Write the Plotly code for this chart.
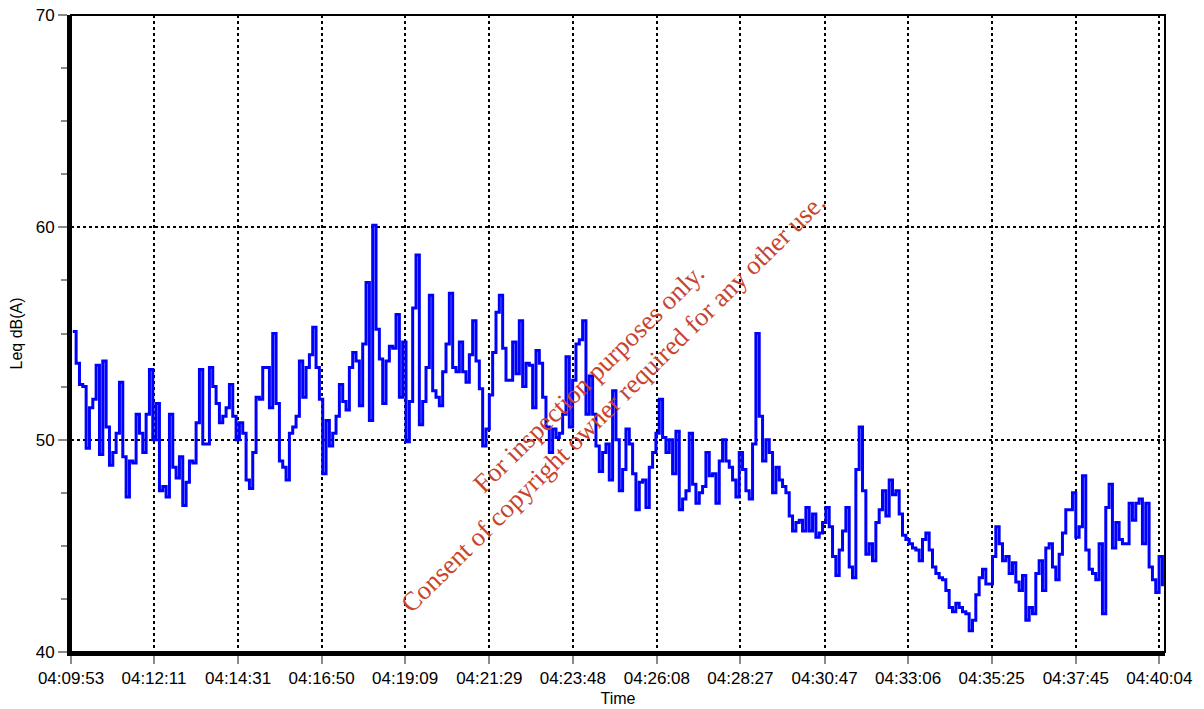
import pandas as pd
import plotly.graph_objects as go

# ---- data ----
START = "2024-01-01 04:09:56"
SAMPLE_MS = 5545
leq = [
    55.1, 53.6, 52.6, 52.5, 49.6, 51.5, 51.9, 53.5, 49.3, 53.7,
    50.6, 48.8, 49.4, 50.3, 52.7, 49.2, 47.3, 49.0, 48.9, 51.2,
    50.3, 49.4, 51.2, 53.3, 50.0, 51.7, 47.6, 47.8, 47.3, 51.2,
    48.7, 48.2, 49.2, 46.9, 48.0, 49.0, 48.9, 50.8, 53.3, 49.8,
    49.8, 53.4, 52.5, 51.7, 50.8, 51.1, 51.5, 52.6, 51.1, 50.0,
    50.8, 50.3, 48.1, 47.7, 49.4, 52.0, 51.9, 53.4, 53.4, 51.5,
    55.0, 51.7, 49.0, 48.7, 48.1, 50.3, 50.6, 51.1, 53.7, 52.0,
    53.4, 54.0, 55.3, 53.4, 51.9, 48.4, 50.9, 49.7, 50.3, 51.1,
    52.6, 51.8, 51.4, 53.4, 54.1, 53.7, 51.6, 54.5, 57.4, 50.9,
    60.1, 55.2, 53.8, 51.7, 53.7, 54.4, 54.3, 55.9, 52.0, 54.6,
    49.9, 51.8, 56.2, 58.7, 50.7, 51.8, 53.4, 56.8, 52.3, 52.0,
    51.6, 53.2, 54.5, 56.9, 53.4, 53.2, 54.6, 53.2, 52.7, 54.0,
    55.6, 53.7, 52.4, 49.7, 50.5, 52.1, 54.1, 56.0, 56.8, 54.3,
    52.8, 52.8, 54.6, 53.1, 55.6, 52.5, 53.6, 53.5, 51.5, 54.2,
    53.6, 52.0, 50.6, 49.4, 50.5, 50.1, 50.3, 51.2, 53.9, 50.6,
    52.8, 54.5, 54.7, 55.6, 51.2, 53.0, 51.2, 49.7, 48.5, 49.4,
    49.8, 48.1, 52.3, 50.0, 47.6, 48.6, 50.5, 49.8, 48.4, 46.7,
    48.0, 48.1, 46.8, 48.7, 49.4, 50.3, 51.9, 50.1, 49.4, 50.0,
    48.4, 50.4, 46.7, 47.2, 47.6, 50.3, 47.9, 47.0, 47.5, 47.8,
    49.4, 48.3, 48.4, 47.0, 49.0, 50.0, 49.0, 48.7, 48.1, 47.3,
    49.4, 48.6, 47.6, 47.2, 49.8, 55.0, 51.1, 49.0, 50.0, 49.4,
    47.5, 48.7, 48.1, 47.8, 47.5, 46.4, 45.7, 46.1, 46.2, 45.7,
    46.8, 45.7, 46.5, 45.4, 45.6, 46.1, 46.8, 45.9, 44.5, 43.6,
    44.8, 45.7, 46.8, 44.0, 43.5, 48.6, 50.6, 47.6, 44.6, 45.1,
    44.3, 46.1, 46.7, 47.6, 46.4, 48.1, 47.4, 47.6, 46.5, 45.5,
    45.3, 45.1, 44.9, 44.8, 44.3, 45.3, 45.6, 44.8, 44.0, 43.7,
    43.5, 43.4, 42.9, 42.1, 41.9, 42.3, 42.1, 41.9, 41.8, 41.0,
    41.5, 42.7, 43.5, 43.9, 43.2, 43.2, 44.5, 45.9, 45.1, 44.3,
    44.5, 43.7, 44.2, 43.3, 42.9, 43.6, 41.5, 42.1, 41.8, 43.7,
    44.3, 42.9, 44.9, 45.1, 44.0, 43.4, 44.6, 45.6, 46.7, 46.7,
    47.5, 45.4, 45.9, 48.3, 44.8, 43.9, 43.7, 43.4, 45.1, 41.8,
    46.8, 47.9, 44.9, 46.1, 45.3, 45.1, 45.1, 47.0, 46.2, 47.0,
    47.2, 45.1, 47.0, 44.0, 43.4, 42.8, 44.5, 43.1,
]
tick_labels = ["04:09:53", "04:12:11", "04:14:31", "04:16:50", "04:19:09",
               "04:21:29", "04:23:48", "04:26:08", "04:28:27", "04:30:47",
               "04:33:06", "04:35:25", "04:37:45", "04:40:04"]
x_range = ["2024-01-01 04:09:53", "2024-01-01 04:40:13.5"]
y_major = [40, 50, 60, 70]
watermark = "For inspection purposes only.<br>Consent of copyright owner required for any other use."

times = pd.date_range(start=START, periods=len(leq), freq=f"{SAMPLE_MS}ms")
tick_vals = ["2024-01-01 " + t for t in tick_labels]

fig = go.Figure()
fig.add_trace(go.Scatter(
    x=times, y=leq, mode="lines",
    line=dict(color="#0000ff", width=3, shape="hv"),
    showlegend=False, hoverinfo="x+y",
))

axis_font = dict(family="Liberation Sans, Arial, sans-serif", size=17, color="#000")
title_font = dict(family="Liberation Sans, Arial, sans-serif", size=16, color="#000")

fig.update_layout(
    width=1204, height=709,
    margin=dict(l=71, r=39, t=15, b=57),
    paper_bgcolor="white", plot_bgcolor="white",
    font=dict(family="Liberation Sans, Arial, sans-serif", color="#000"),
    xaxis=dict(
        type="date", range=x_range, automargin=False,
        tickmode="array", tickvals=tick_vals, ticktext=tick_labels,
        tickfont=axis_font,
        ticks="outside", ticklen=8, tickwidth=1.5, tickcolor="#8a8a8a",
        showgrid=True, gridcolor="#000", griddash="dot", gridwidth=1.5,
        showline=True, linecolor="#000", linewidth=4,
        zeroline=False,
        title=dict(text="Time", font=title_font, standoff=6),
    ),
    yaxis=dict(
        range=[40, 70], automargin=False,
        tickmode="array", tickvals=y_major,
        tickfont=axis_font,
        ticks="outside", ticklen=9, tickwidth=1.5, tickcolor="#8a8a8a",
        minor=dict(dtick=2.5, tick0=40, ticks="outside", ticklen=6, tickwidth=1.5,
                   tickcolor="#8a8a8a", showgrid=False),
        showgrid=True, gridcolor="#000", griddash="dot", gridwidth=1.5,
        showline=True, linecolor="#000", linewidth=4,
        zeroline=False,
        title=dict(text="Leq dB(A)", font=title_font, standoff=10),
    ),
    shapes=[dict(type="rect", xref="paper", yref="paper", x0=0, x1=1, y0=0, y1=1,
                 line=dict(color="#000", width=2), layer="above")],
    annotations=[dict(
        text=watermark, xref="paper", yref="paper", x=0.4846, y=0.4107,
        xanchor="center", yanchor="middle", showarrow=False, textangle=-44.6,
        font=dict(family="Liberation Serif, Times New Roman, serif", size=26.5, color="#c9432e"),
    )],
)

fig.write_html("out.html")
